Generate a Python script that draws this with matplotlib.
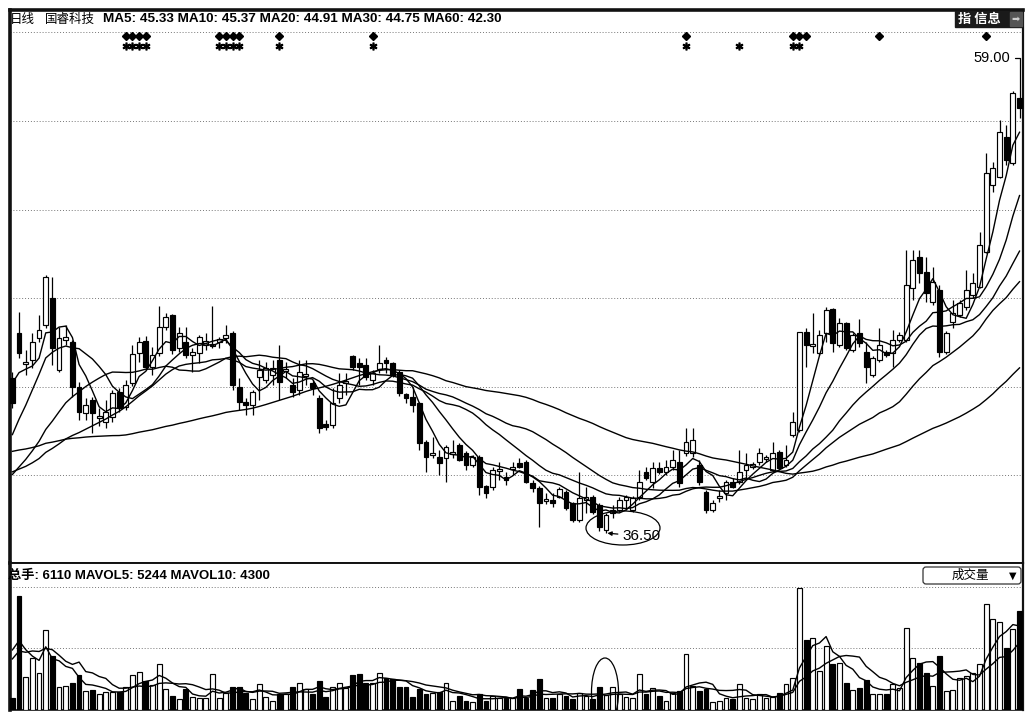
import matplotlib
matplotlib.use("Agg")
import matplotlib.pyplot as plt
import numpy as np
import pandas as pd
from matplotlib.patches import Ellipse, Rectangle, FancyBboxPatch
from matplotlib.transforms import blended_transform_factory

# ---------------- data ----------------
# 60 closes before the visible window (needed for the moving averages)
pre_close = [41.2, 41.6, 42.0, 41.8, 41.5, 41.9, 42.3, 42.1, 41.7, 41.4,
             41.0, 40.8, 41.1, 41.5, 41.9, 42.4, 42.6, 42.2, 41.8, 41.6,
             41.3, 41.7, 42.0, 42.3, 41.9, 41.5, 41.2, 40.9, 41.3, 41.6,
             41.8, 41.4, 41.1, 40.7, 40.4, 40.1, 39.8, 39.5, 39.0, 38.6,
             38.2, 37.9, 37.6, 37.4, 37.2, 37.5, 37.3, 37.0, 37.4, 37.7,
             37.5, 37.8, 38.1, 38.4, 38.9, 41.2, 43.0, 44.3, 45.4, 44.8]
pre_volume = [2500, 2200, 2800, 2400, 2600, 3000, 4200, 4800, 5200, 3600]

opens = [44.37, 46.65, 45.08, 45.28, 46.40, 47.06, 48.43, 44.78, 46.30, 46.20,
         43.91, 42.59, 43.25, 42.34, 42.13, 42.39, 43.66, 42.89, 44.11, 45.64,
         46.25, 44.93, 45.64, 46.96, 47.57, 45.89, 46.20, 45.54, 45.64, 46.04,
         45.99, 46.20, 46.40, 46.65, 43.91, 43.15, 43.00, 44.42, 44.27, 44.52,
         45.29, 44.72, 44.01, 43.76, 44.47, 44.11, 43.35, 42.03, 41.98, 43.35,
         44.11, 45.49, 45.13, 45.03, 44.27, 44.82, 45.29, 45.13, 44.67, 43.55,
         43.40, 43.10, 41.12, 40.46, 40.35, 40.30, 40.51, 40.96, 40.56, 39.95,
         40.35, 38.88, 38.83, 39.64, 39.34, 39.74, 40.05, 40.10, 39.03, 38.78,
         38.12, 38.17, 38.32, 38.58, 38.02, 37.16, 38.17, 38.32, 37.92, 36.65,
         37.51, 37.67, 38.17, 37.67, 38.32, 39.59, 39.08, 39.80, 39.59, 39.85,
         40.10, 40.56, 40.56, 39.95, 38.58, 37.67, 38.27, 38.53, 39.08, 39.08,
         39.70, 39.85, 40.10, 40.25, 39.70, 40.61, 39.95, 41.47, 41.73, 46.70,
         45.99, 45.64, 46.65, 47.87, 46.04, 47.16, 45.79, 46.65, 45.69, 44.52,
         45.29, 45.69, 45.64, 46.30, 46.30, 48.94, 50.51, 49.75, 48.23, 48.84,
         45.69, 47.21, 47.57, 47.97, 48.58, 48.99, 50.77, 54.17, 54.58, 56.61,
         55.29, 58.59]
highs = [44.67, 47.72, 45.79, 46.65, 47.57, 49.60, 49.50, 46.96, 47.06, 46.30,
         44.16, 43.35, 43.40, 42.84, 43.25, 43.76, 43.86, 44.27, 46.04, 46.45,
         46.50, 45.94, 48.03, 47.67, 47.62, 46.96, 46.96, 45.89, 46.55, 46.65,
         48.03, 46.45, 47.06, 46.76, 44.37, 43.35, 43.76, 45.29, 45.18, 45.29,
         46.04, 45.18, 44.37, 45.29, 45.29, 44.27, 43.50, 42.24, 43.86, 44.62,
         44.62, 45.54, 45.38, 45.38, 44.78, 46.04, 45.43, 45.18, 44.78, 43.61,
         43.91, 43.15, 41.22, 41.37, 40.71, 40.96, 41.22, 41.07, 40.66, 40.46,
         40.46, 38.93, 39.85, 40.10, 39.59, 40.10, 40.30, 40.21, 39.19, 38.88,
         38.53, 38.53, 38.83, 38.68, 38.07, 39.59, 38.83, 38.42, 38.02, 37.51,
         37.92, 38.32, 38.42, 38.37, 39.70, 39.85, 40.10, 40.10, 40.21, 40.71,
         40.71, 41.83, 41.83, 40.21, 38.68, 38.17, 38.68, 39.19, 39.29, 40.71,
         40.56, 40.10, 40.81, 40.46, 41.12, 40.71, 40.96, 42.64, 46.70, 46.91,
         47.67, 46.81, 47.97, 47.92, 47.42, 47.21, 46.65, 47.36, 46.20, 45.49,
         46.91, 45.79, 46.81, 46.70, 50.87, 50.87, 50.87, 50.51, 50.01, 49.09,
         46.76, 48.33, 48.33, 49.86, 49.70, 51.78, 55.80, 55.34, 57.47, 57.22,
         58.95, 59.00]
lows = [42.84, 45.38, 44.52, 44.88, 46.20, 46.91, 45.03, 44.67, 46.04, 43.40,
        42.24, 42.24, 41.57, 41.93, 41.83, 42.13, 42.64, 42.75, 43.96, 45.18,
        44.78, 44.52, 45.49, 46.81, 45.59, 45.69, 45.38, 44.67, 45.13, 45.79,
        45.89, 45.89, 46.15, 43.76, 42.75, 42.49, 42.49, 43.25, 44.11, 44.01,
        43.25, 44.37, 43.40, 43.50, 44.01, 43.50, 41.57, 41.73, 41.83, 43.10,
        43.50, 44.78, 44.01, 44.27, 44.01, 44.62, 44.62, 44.42, 43.45, 43.10,
        42.64, 40.71, 39.59, 40.30, 39.44, 39.08, 40.30, 40.15, 39.70, 39.85,
        38.42, 38.27, 38.68, 39.19, 38.93, 39.44, 39.80, 39.03, 38.58, 36.80,
        37.97, 37.81, 38.27, 37.67, 37.05, 37.05, 37.51, 37.46, 36.60, 36.50,
        37.26, 37.56, 37.67, 37.56, 38.17, 39.19, 38.78, 39.49, 39.44, 39.70,
        38.83, 40.41, 40.35, 38.93, 37.51, 37.56, 38.07, 38.17, 38.78, 38.98,
        39.29, 39.74, 39.95, 40.10, 39.59, 39.70, 39.85, 41.37, 41.62, 44.93,
        45.64, 45.54, 46.20, 45.69, 45.94, 45.79, 45.69, 45.94, 44.11, 44.42,
        45.18, 45.43, 44.93, 46.20, 46.20, 48.33, 49.19, 48.23, 48.08, 45.43,
        45.59, 46.91, 47.47, 47.83, 48.43, 48.94, 50.72, 53.82, 54.53, 55.19,
        55.19, 57.58]
closes = [43.10, 45.64, 45.18, 46.20, 46.81, 49.50, 45.89, 46.40, 46.45, 43.91,
          42.64, 43.00, 42.59, 42.44, 42.64, 43.61, 42.84, 44.01, 45.59, 46.20,
          44.93, 45.54, 46.96, 47.47, 45.79, 46.65, 45.54, 45.69, 46.45, 46.25,
          46.09, 46.35, 46.55, 44.01, 43.15, 43.00, 43.66, 44.78, 44.88, 44.88,
          44.16, 44.83, 43.66, 44.67, 44.57, 43.86, 41.83, 41.88, 43.10, 44.01,
          44.22, 44.93, 44.93, 44.42, 44.62, 45.13, 45.13, 44.52, 43.61, 43.35,
          43.00, 41.07, 40.35, 40.56, 40.05, 40.86, 40.61, 40.21, 39.95, 40.35,
          38.83, 38.53, 39.70, 39.74, 39.19, 39.85, 39.85, 39.08, 38.78, 38.02,
          38.22, 38.02, 38.73, 37.76, 37.16, 38.27, 38.32, 37.56, 36.80, 37.41,
          37.67, 38.17, 38.32, 38.27, 39.08, 39.29, 39.80, 39.59, 39.85, 40.21,
          39.03, 41.12, 41.22, 39.08, 37.67, 38.02, 38.37, 39.08, 38.83, 39.59,
          39.95, 40.00, 40.56, 40.35, 40.56, 39.80, 40.21, 42.13, 46.70, 46.04,
          46.09, 46.55, 47.83, 46.15, 47.16, 45.89, 46.55, 46.15, 44.93, 45.38,
          46.04, 45.54, 46.30, 46.55, 49.09, 50.37, 49.70, 48.69, 49.24, 45.69,
          46.65, 47.67, 48.18, 48.84, 49.19, 51.12, 54.78, 55.04, 56.86, 55.44,
          58.85, 58.08]
volumes = [740, 7030, 2040, 3210, 2280, 4940, 3330, 1420, 1480, 1670,
           2160, 1170, 1230, 990, 1110, 1110, 1110, 1420, 2160, 2340,
           1790, 1540, 2840, 1300, 860, 680, 1300, 800, 740, 740,
           2220, 740, 1050, 1420, 1420, 1050, 680, 1600, 800, 560,
           990, 990, 1420, 1670, 1300, 990, 1790, 800, 1420, 1670,
           1360, 2160, 2220, 1670, 1670, 2280, 1970, 1910, 1420, 1420,
           800, 1300, 990, 1050, 1110, 1670, 560, 860, 560, 500,
           990, 560, 860, 740, 740, 740, 1300, 740, 1230, 1910,
           740, 740, 990, 860, 680, 1050, 860, 680, 1420, 925,
           1420, 990, 800, 740, 2220, 990, 1360, 860, 560, 1050,
           1170, 3460, 1480, 1170, 1300, 500, 560, 740, 680, 1600,
           740, 680, 990, 740, 800, 1050, 1600, 1970, 7530, 4320,
           4440, 2410, 3950, 2840, 2900, 1670, 1230, 1360, 1850, 990,
           990, 990, 1600, 1360, 5060, 3210, 2900, 2280, 1480, 3330,
           1170, 1230, 1970, 2100, 2280, 2840, 6540, 5610, 5400, 3800,
           5000, 6110]

ma_windows = [5, 10, 20, 30, 60]
vol_ma_windows = [5, 10]
diamond_idx = [17, 18, 19, 20, 31, 32, 33, 34, 40, 54, 101, 117, 118, 119, 130, 146]
star_idx = [17, 18, 19, 20, 31, 32, 33, 34, 40, 54, 101, 109, 117, 118]
low_label, high_label = "36.50", "59.00"
price_grid = [61.94, 57.42, 52.90, 48.43, 43.91, 39.44]
volume_grid = [7590, 3825]
header_name = "国睿科技"
header_ma = "MA5: 45.33 MA10: 45.37 MA20: 44.91 MA30: 44.75 MA60: 42.30"
vol_header = "总手: 6110 MAVOL5: 5244 MAVOL10: 4300"

# ---------------- figure ----------------
W, H = 1030, 714
fig = plt.figure(figsize=(W / 100, H / 100), dpi=100)
fig.patch.set_facecolor("white")


def box(x0, y0, x1, y1):
    return [x0 / W, 1 - y1 / H, (x1 - x0) / W, (y1 - y0) / H]


ax = fig.add_axes(box(10, 10, 1023, 563))
axv = fig.add_axes(box(10, 563, 1023, 710))
ov = fig.add_axes([0, 0, 1, 1], zorder=10)
ov.set_xlim(0, W)
ov.set_ylim(H, 0)
ov.axis("off")

n = len(closes)
idx = np.arange(n)
o = np.array(opens); c = np.array(closes); h = np.array(highs); l = np.array(lows)
up = c >= o

ax.set_xlim(-0.36, 151.52)
ax.set_ylim(34.98, 63.06)
axv.set_xlim(-0.36, 151.52)
axv.set_ylim(0, 147 * 61.7)

for a in (ax, axv):
    a.set_xticks([]); a.set_yticks([])
    a.spines["left"].set_linewidth(2.6)
    a.spines["right"].set_linewidth(1.6)
    a.spines["top"].set_linewidth(1.4)
    a.spines["bottom"].set_linewidth(1.2)
    for s in a.spines.values():
        s.set_color("#111111")
ax.spines["top"].set_linewidth(2.6)

# grid lines
for g in price_grid:
    ax.axhline(g, color="#777777", lw=0.7, ls=(0, (1, 2)), zorder=1)
for g in volume_grid:
    axv.axhline(g, color="#777777", lw=0.7, ls=(0, (1, 2)), zorder=1)

# candles
bw = 0.72
ax.vlines(idx, l, h, color="black", lw=0.9, zorder=2)
body_bottom = np.minimum(o, c)
body_h = np.abs(c - o)
ax.bar(idx, body_h, bottom=body_bottom, width=bw,
       color=np.where(up, "white", "black"), edgecolor="black",
       linewidth=0.85, zorder=3)

# moving averages
allc = pd.Series(pre_close + closes)
for w in ma_windows:
    ma = allc.rolling(w).mean().values[len(pre_close):]
    ax.plot(idx, ma, color="black", lw=1.0, zorder=4)

# volume
axv.bar(idx, volumes, width=bw, color=np.where(up, "white", "black"),
        edgecolor="black", linewidth=0.85, zorder=3)
allv = pd.Series(pre_volume + volumes)
for w in vol_ma_windows:
    mv = allv.rolling(w).mean().values[len(pre_volume):]
    axv.plot(idx, mv, color="black", lw=1.0, zorder=4)

# signal markers
tr = blended_transform_factory(ax.transData, ov.transData)
ax.plot(diamond_idx, [36] * len(diamond_idx), "D", ms=3.6, color="black",
        transform=tr, clip_on=False, zorder=6)
ax.plot(star_idx, [46] * len(star_idx), marker=r"$\ast$", ls="none", ms=5,
        color="black", transform=tr, clip_on=False, zorder=6)

# low / high labels
ax.annotate(low_label, xy=(int(np.argmin(l)), min(lows)), xytext=(16, -3),
            textcoords="offset pixels", ha="left", va="center",
            fontsize=11, family="Liberation Sans",
            arrowprops=dict(arrowstyle="-|>", lw=0.9, color="black",
                            mutation_scale=6, shrinkA=1, shrinkB=1))
ax.annotate(high_label, xy=(int(np.argmax(h)), max(highs)), xytext=(-9, 32),
            textcoords="offset pixels", ha="right", va="center",
            fontsize=10.5, family="Liberation Sans",
            arrowprops=dict(arrowstyle="-", lw=0.9, color="black",
                            connectionstyle="angle,angleA=0,angleB=90,rad=0",
                            shrinkA=1, shrinkB=0))

# hand-drawn ovals
ov.add_patch(Ellipse((623, 528), 74, 34, fill=False, lw=0.9, ec="black"))
el = Ellipse((605, 692), 27, 68, fill=False, lw=0.9, ec="black")
ov.add_patch(el)
el.set_clip_path(axv.patch)

# header texts
fam = ["Liberation Sans", "Noto Sans CJK SC"]
ov.text(10, 19, "日线", fontsize=9, family=["Noto Sans CJK SC"], va="center")
ov.text(45, 19, header_name, fontsize=9, family=["Noto Sans CJK SC"], va="center")
ov.text(103, 19, header_ma, fontsize=9.7, family=fam, weight="bold", va="center")
ov.text(8, 576, vol_header, fontsize=9.5, family=fam, weight="bold", va="center")

# top-right info box
ov.add_patch(Rectangle((955, 11), 67, 16, color="#1a1a1a", zorder=1))
ov.add_patch(Rectangle((1010, 12), 12, 14, color="#555555", zorder=2))
ov.text(958, 19, "指 信息", color="white", fontsize=9.5, weight="bold",
        family=["Noto Sans CJK SC"], va="center", zorder=3)
ov.text(1016, 19, "➡", color="#cccccc", fontsize=7, family=["DejaVu Sans"],
        va="center", ha="center", zorder=3)

# volume selector box
ov.add_patch(FancyBboxPatch((923, 567), 98, 17,
                            boxstyle="round,pad=0,rounding_size=3",
                            fc="white", ec="#333333", lw=0.9))
ov.text(970, 575.5, "成交量", fontsize=9, family=["Noto Sans CJK SC"],
        va="center", ha="center")
ov.text(1013, 576, "▼", fontsize=7, family=["DejaVu Sans"], va="center", ha="center")

fig.savefig("out.png", dpi=100)
